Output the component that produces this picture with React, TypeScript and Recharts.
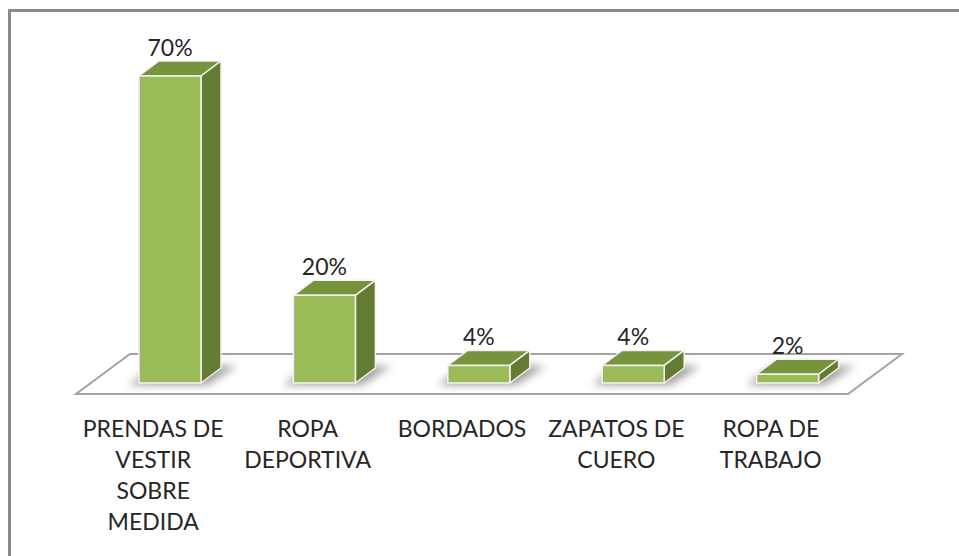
import { Bar, BarChart, LabelList, XAxis, YAxis } from "recharts";

const CATEGORIES = [
  "PRENDAS DE\nVESTIR\nSOBRE\nMEDIDA",
  "ROPA\nDEPORTIVA",
  "BORDADOS",
  "ZAPATOS DE\nCUERO",
  "ROPA DE\nTRABAJO",
];
const SHARES = [70, 20, 4, 4, 2];

const W = 959;
const H = 556;
const MARGIN = { top: 76, right: 94, bottom: 23, left: 93 };
const AXIS_H = 150;
// 3d depth of each box
const DX = 20;
const DY = 15;
const FONT = "Lato, 'Noto Sans', sans-serif";
const TEXT = "#262626";

const chartData = CATEGORIES.map((name, i) => ({ name, share: SHARES[i] }));

function Box3D(props: any) {
  const { x, y, width, height, index } = props;
  if (height == null || width == null) return null;
  const x2 = x + width;
  const yb = y + height;
  const fid = `shadow-${index}`;
  const shadow = [
    [x - 10, yb + 2],
    [x2 + 6, yb + 2],
    [x2 + DX + 16, yb - DY - 2],
    [x + DX - 4, yb - DY - 2],
  ]
    .map((p) => p.join(","))
    .join(" ");
  const top = `${x},${y} ${x2},${y} ${x2 + DX},${y - DY} ${x + DX},${y - DY}`;
  const side = `${x2},${y} ${x2 + DX},${y - DY} ${x2 + DX},${yb - DY} ${x2},${yb}`;
  return (
    <g>
      <defs>
        <filter id={fid} x="-50%" y="-50%" width="200%" height="200%">
          <feGaussianBlur stdDeviation="4" />
        </filter>
      </defs>
      <polygon points={shadow} fill="#000" opacity={0.38} filter={`url(#${fid})`} />
      <polygon points={top} fill="#77933C" stroke="#f2f2f2" strokeWidth={1.5} strokeLinejoin="round" />
      <polygon points={side} fill="#647B33" stroke="#f2f2f2" strokeWidth={1.5} strokeLinejoin="round" />
      <rect x={x} y={y} width={width} height={height} fill="#9BBB59" stroke="#f2f2f2" strokeWidth={1.5} />
    </g>
  );
}

function PctLabel(props: any) {
  const { x, y, width, value } = props;
  return (
    <text
      x={Number(x) + Number(width) / 2}
      y={Number(y) - DY - 5}
      textAnchor="middle"
      fontFamily={FONT}
      fontSize={23}
      fill={TEXT}
    >
      {value}%
    </text>
  );
}

function CategoryTick(props: any) {
  const { x, y, payload } = props;
  const lines = String(payload.value).split("\n");
  const cx = x - 17;
  return (
    <text x={cx} y={y} textAnchor="middle" fontFamily={FONT} fontSize={23} fill={TEXT}>
      {lines.map((line, i) => (
        <tspan key={i} x={cx} dy={i === 0 ? 54 : 31}>
          {line}
        </tspan>
      ))}
    </text>
  );
}

function Floor() {
  const left = MARGIN.left;
  const right = W - MARGIN.right;
  const base = H - MARGIN.bottom - AXIS_H;
  const pts = [
    [left - 17, base + 11],
    [right - 17, base + 11],
    [right + 37, base - 29],
    [left + 37, base - 29],
  ]
    .map((p) => p.join(","))
    .join(" ");
  return (
    <svg width={W} height={H} style={{ position: "absolute", left: 0, top: 0 }}>
      <polygon points={pts} fill="#fff" stroke="#a3a3a3" strokeWidth={2} />
    </svg>
  );
}

export default function App() {
  return (
    <div style={{ position: "fixed", left: 0, top: 0, width: W, height: H, background: "#fff", overflow: "hidden" }}>
      <div
        style={{
          position: "absolute",
          left: 8,
          top: 9,
          width: W,
          height: H,
          borderTop: "3px solid #8a8a8a",
          borderLeft: "3px solid #8a8a8a",
        }}
      />
      <Floor />
      <div style={{ position: "absolute", left: 0, top: 0 }}>
        <BarChart width={W} height={H} data={chartData} margin={MARGIN}>
          <XAxis
            dataKey="name"
            height={AXIS_H}
            axisLine={false}
            tickLine={false}
            tickSize={0}
            tickMargin={0}
            interval={0}
            tick={<CategoryTick />}
          />
          <YAxis hide domain={[0, 70]} />
          <Bar dataKey="share" barSize={62} shape={<Box3D />} isAnimationActive={false}>
            <LabelList dataKey="share" content={<PctLabel />} />
          </Bar>
        </BarChart>
      </div>
    </div>
  );
}
